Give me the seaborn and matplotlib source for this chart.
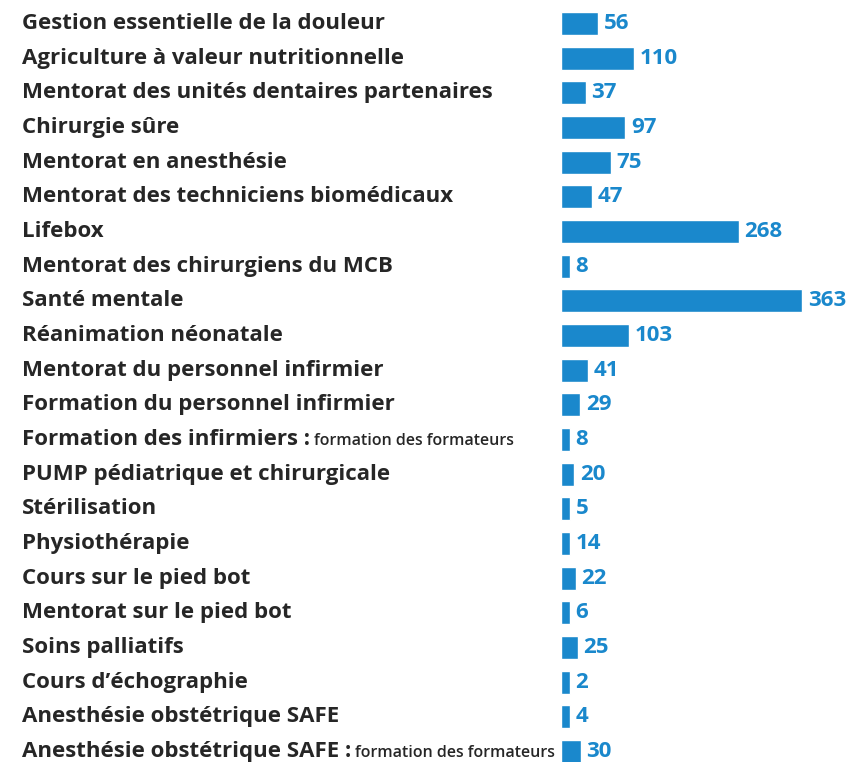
import matplotlib
matplotlib.use('Agg')
import matplotlib.pyplot as plt
import matplotlib.transforms as mtransforms
import seaborn as sns
import numpy as np

programmes = [
    'Gestion essentielle de la douleur',
    'Agriculture à valeur nutritionnelle',
    'Mentorat des unités dentaires partenaires',
    'Chirurgie sûre',
    'Mentorat en anesthésie',
    'Mentorat des techniciens biomédicaux',
    'Lifebox',
    'Mentorat des chirurgiens du MCB',
    'Santé mentale',
    'Réanimation néonatale',
    'Mentorat du personnel infirmier',
    'Formation du personnel infirmier',
    'Formation des infirmiers :',
    'PUMP pédiatrique et chirurgicale',
    'Stérilisation',
    'Physiothérapie',
    'Cours sur le pied bot',
    'Mentorat sur le pied bot',
    'Soins palliatifs',
    'Cours d’échographie',
    'Anesthésie obstétrique SAFE',
    'Anesthésie obstétrique SAFE :',
]
suffixes = [''] * 12 + ['formation des formateurs'] + [''] * 8 + ['formation des formateurs']
counts = [56, 110, 37, 97, 75, 47, 268, 8, 363, 103, 41, 29, 8, 20, 5, 14, 22, 6, 25, 2, 4, 30]

BLUE = '#1a88cc'
DARK = '#262626'
MIN_BAR = 13.5  # the original draws tiny values with a minimum visible width

sns.set_theme(style='white')
plt.rcParams['font.family'] = ['Open Sans', 'DejaVu Sans']

fig = plt.figure(figsize=(8.46, 7.62), dpi=100)
ax = fig.add_axes([561 / 846, 0, 285 / 846, 1])

labels = [f'{p} {s}'.strip() for p, s in zip(programmes, suffixes)]
shown = np.maximum(counts, MIN_BAR)
sns.barplot(x=shown, y=labels, orient='h', color=BLUE, saturation=1,
            width=0.66, ax=ax)

ax.set_xlim(0, 429)
ax.set_ylim(21.3, -0.68)
ax.axis('off')

for i, (w, c) in enumerate(zip(shown, counts)):
    ax.annotate(str(c), xy=(w, i), xytext=(4, 0), textcoords='offset points',
                va='center', ha='left', color=BLUE, fontsize=16,
                fontweight='bold')

trans = mtransforms.blended_transform_factory(fig.transFigure, ax.transData)
for i, (p, s) in enumerate(zip(programmes, suffixes)):
    t = ax.text(22 / 846, i, p, transform=trans, va='center', ha='left',
                color=DARK, fontsize=16, fontweight='bold', clip_on=False)
    if s:
        ax.annotate(s, xy=(1, 0), xycoords=t, xytext=(3, 0.8),
                    textcoords='offset points', va='bottom', ha='left',
                    color=DARK, fontsize=11.5, fontweight='semibold')

fig.savefig('out.png', dpi=100)
